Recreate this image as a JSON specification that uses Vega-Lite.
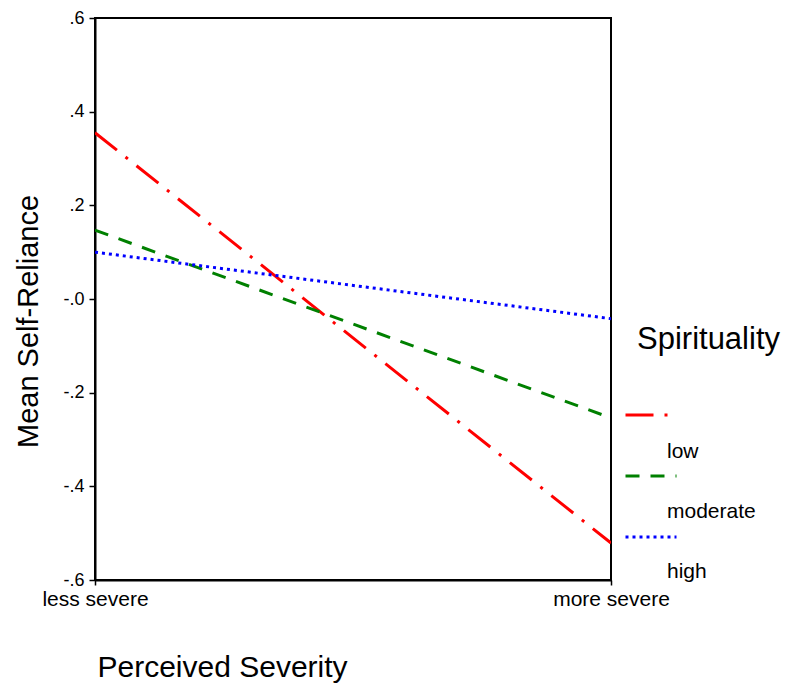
{
  "$schema": "https://vega.github.io/schema/vega-lite/v6.json",
  "width": 516,
  "height": 562,
  "autosize": "none",
  "padding": {"left": 95, "top": 18, "right": 176, "bottom": 110},
  "background": "white",
  "config": {
    "font": "Liberation Sans",
    "view": {"stroke": "black", "strokeWidth": 2},
    "axis": {
      "grid": false,
      "domainColor": "black",
      "domainWidth": 2,
      "tickColor": "black",
      "tickWidth": 1.5,
      "labelColor": "black",
      "titleColor": "black",
      "titleFontWeight": "normal",
      "labelFont": "Liberation Sans",
      "titleFont": "Liberation Sans"
    }
  },
  "data": {
    "values": [
      {"severity": "less severe", "mean": 0.355, "spirituality": "low"},
      {"severity": "more severe", "mean": -0.521, "spirituality": "low"},
      {"severity": "less severe", "mean": 0.147, "spirituality": "moderate"},
      {"severity": "more severe", "mean": -0.254, "spirituality": "moderate"},
      {"severity": "less severe", "mean": 0.1, "spirituality": "high"},
      {"severity": "more severe", "mean": -0.042, "spirituality": "high"}
    ]
  },
  "mark": {"type": "line", "strokeWidth": 3, "strokeCap": "butt", "clip": true},
  "encoding": {
    "x": {
      "field": "severity",
      "type": "nominal",
      "sort": ["less severe", "more severe"],
      "scale": {"type": "point", "padding": 0},
      "axis": {
        "title": "Perceived Severity",
        "labelAngle": 0,
        "labelFontSize": 21,
        "tickSize": 5,
        "labelPadding": 3,
        "titleFontSize": 30,
        "titleAnchor": "start",
        "titleAlign": "left",
        "titleBaseline": "middle",
        "titleX": 2,
        "titleY": 87
      }
    },
    "y": {
      "field": "mean",
      "type": "quantitative",
      "scale": {"domain": [-0.6, 0.6], "nice": false, "zero": false},
      "axis": {
        "title": "Mean Self-Reliance",
        "values": [-0.6, -0.4, -0.2, 0, 0.2, 0.4, 0.6],
        "labelExpr": "(datum.value <= 0 ? '-' : '') + '.' + round(abs(datum.value) * 10)",
        "labelFontSize": 18,
        "tickSize": 6,
        "labelPadding": 5,
        "titleFontSize": 29,
        "titleAlign": "center",
        "titleBaseline": "middle",
        "titleX": -67,
        "titleY": 303
      }
    },
    "color": {
      "field": "spirituality",
      "type": "nominal",
      "scale": {"domain": ["low", "moderate", "high"], "range": ["#ff0000", "#008000", "#0000ff"]},
      "legend": {
        "title": null,
        "orient": "none",
        "legendX": 529,
        "legendY": 406.5,
        "padding": 0,
        "symbolType": "stroke",
        "symbolSize": 2601,
        "symbolStrokeWidth": 3,
        "symbolOpacity": 0,
        "labelFontSize": 21,
        "labelColor": "black",
        "labelOffset": -11,
        "rowPadding": 23
      }
    },
    "strokeDash": {
      "field": "spirituality",
      "type": "nominal",
      "sort": ["low", "moderate", "high"],
      "scale": {"range": [[28, 11, 3, 11], [14, 11], [3, 4]]},
      "legend": {
        "title": "Spirituality",
        "orient": "none",
        "legendX": 529,
        "legendY": 307,
        "padding": 0,
        "symbolType": "stroke",
        "symbolSize": 2601,
        "symbolStrokeWidth": 3,
        "labelFontSize": 10,
        "labelExpr": "''",
        "rowPadding": 28,
        "titleFontSize": 31,
        "titleFontWeight": "normal",
        "titleColor": "black",
        "titlePadding": 32,
        "encode": {
          "symbols": {"update": {"stroke": {"scale": "color", "field": "value"}}},
          "title": {"update": {"dx": {"value": 13}}}
        }
      }
    }
  }
}
